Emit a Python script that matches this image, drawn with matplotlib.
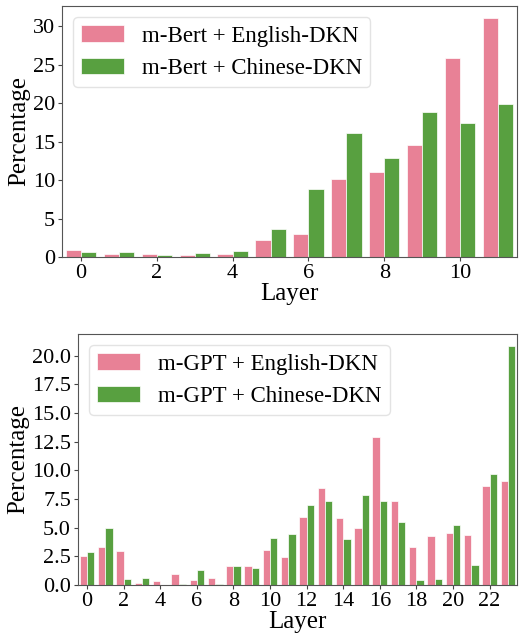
import matplotlib
matplotlib.use("Agg")
import matplotlib.pyplot as plt
import numpy as np

plt.rcParams['font.family'] = ['Liberation Serif', 'DejaVu Serif']

# m-Bert, 12 layers
bert_layers = np.arange(12)
bert_english = [0.95, 0.35, 0.4, 0.25, 0.45, 2.25, 3.0, 10.2, 11.0, 14.6, 25.9, 31.1]
bert_chinese = [0.7, 0.6, 0.3, 0.55, 0.75, 3.64, 8.9, 16.1, 12.9, 18.8, 17.4, 19.9]

# m-GPT, 24 layers
gpt_layers = np.arange(24)
gpt_english = [2.57, 3.35, 2.97, 0.2, 0.35, 0.96, 0.47, 0.58, 1.66, 1.66, 3.06, 2.48,
               5.95, 8.48, 5.83, 5.01, 12.94, 7.35, 3.29, 4.29, 4.52, 4.37, 8.63, 9.04]
gpt_chinese = [2.89, 5.01, 0.52, 0.64, 0.03, 0.12, 1.31, 0.12, 1.66, 1.46, 4.14, 4.46,
               6.94, 7.35, 4.02, 7.87, 7.35, 5.51, 0.47, 0.52, 5.22, 1.72, 9.65, 20.85]

PINK = "#e88196"
GREEN = "#58a040"
w = 0.4

fig = plt.figure(figsize=(5.29, 6.35), dpi=100)
ax1 = fig.add_axes([62/529, 1 - 257/635, (517-62)/529, (257-6)/635])
ax2 = fig.add_axes([78/529, 1 - 585/635, (517-78)/529, (585-334)/635])


def draw(ax, layers, eng, chi, names, xmax):
    ax.bar(layers - w/2, eng, w, color=PINK, edgecolor="white", linewidth=0.5, label=names[0])
    ax.bar(layers + w/2, chi, w, color=GREEN, edgecolor="white", linewidth=0.5, label=names[1])
    ax.set_xlim(-0.5, xmax)
    ax.set_xlabel("Layer", fontsize=18, labelpad=0)
    ax.set_ylabel("Percentage", fontsize=18, labelpad=2)
    ax.tick_params(labelsize=16, length=3, pad=2, color="#444444")
    for s in ax.spines.values():
        s.set_color("#555555")
    ax.legend(fontsize=16.5, loc="upper left", handlelength=1.85, handletextpad=0.8,
              borderpad=0.35, labelspacing=0.5, edgecolor="#dddddd",
              borderaxespad=0.5)


draw(ax1, bert_layers, bert_english, bert_chinese,
     ["m-Bert + English-DKN", "m-Bert + Chinese-DKN"], 11.5)
ax1.set_xticks([0, 2, 4, 6, 8, 10])
ax1.set_yticks([0, 5, 10, 15, 20, 25, 30])

draw(ax2, gpt_layers, gpt_english, gpt_chinese,
     ["m-GPT + English-DKN", "m-GPT + Chinese-DKN"], 23.5)
ax2.set_xticks(np.arange(0, 23, 2))
ax2.set_yticks(np.arange(0, 20.1, 2.5))
ax2.yaxis.set_major_formatter(matplotlib.ticker.FormatStrFormatter('%.1f'))

fig.savefig("out.png", dpi=100)
